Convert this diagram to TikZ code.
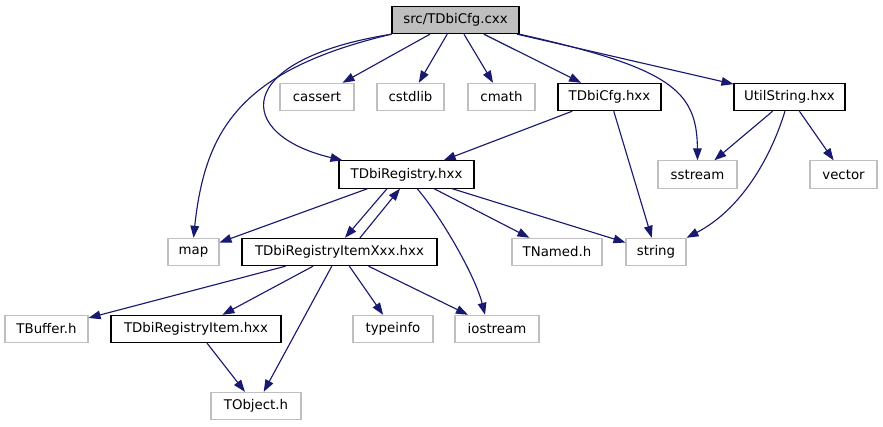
\documentclass[tikz,border=0pt]{standalone}
\usepackage{fontspec}
\setmainfont{DejaVu Sans}
\usepackage{xcolor}
\usepackage{tikz}
\usetikzlibrary{arrows.meta}
\definecolor{edgeblue}{HTML}{191970}
\definecolor{extgray}{HTML}{BFBFBF}

\begin{document}
\begin{tikzpicture}[x=0.75pt, y=-0.75pt, font=\fontsize{10}{12}\selectfont,
    hdr/.style={draw=black, line width=0.8pt, minimum height=20.5pt, inner sep=0pt},
    ext/.style={draw=extgray, line width=0.8pt, minimum height=20.5pt, inner sep=0pt},
    dep/.style={edgeblue, line width=0.85pt, -{Triangle[length=9pt, width=6.5pt]}}]
            \useasboundingbox (0,0) rectangle (883,427);
            % files
            \node[hdr, fill=extgray, minimum width=95.25pt] (cxx) at (455.5,20) {src/TDbiCfg.cxx};
            \node[ext, minimum width=55.5pt] (cassert) at (317,97) {cassert};
            \node[ext, minimum width=50.25pt] (cstdlib) at (410.5,97) {cstdlib};
            \node[ext, minimum width=50.25pt] (cmath) at (501.5,97) {cmath};
            \node[hdr, minimum width=77.25pt] (cfghxx) at (609.5,97) {TDbiCfg.hxx};
            \node[hdr, minimum width=83.25pt] (utilstr) at (789.5,97) {UtilString.hxx};
            \node[hdr, minimum width=101.25pt] (reg) at (406.5,174.5) {TDbiRegistry.hxx};
            \node[ext, minimum width=59.25pt] (sstream) at (697.5,174.5) {sstream};
            \node[ext, minimum width=50.25pt] (vector) at (843.5,174.5) {vector};
            \node[ext, minimum width=38.25pt] (map) at (193.5,252) {map};
            \node[hdr, minimum width=146.25pt] (itemxxx) at (339.5,252) {TDbiRegistryItemXxx.hxx};
            \node[ext, minimum width=67.5pt] (tnamed) at (557,252) {TNamed.h};
            \node[ext, minimum width=45pt] (string) at (656,252) {string};
            \node[ext, minimum width=62.25pt] (tbuffer) at (46.5,329) {TBuffer.h};
            \node[hdr, minimum width=127.5pt] (item) at (196,329) {TDbiRegistryItem.hxx};
            \node[ext, minimum width=60pt] (typeinfo) at (393,329) {typeinfo};
            \node[ext, minimum width=63pt] (iostream) at (497,329) {iostream};
            \node[ext, minimum width=67.5pt] (tobject) at (256,406) {TObject.h};
            % includes
            \draw[dep] (cxx.south west) .. controls (240,70) and (205,130) .. (map.north);
            \draw[dep] (cxx.south west) .. controls (230,60) and (235,135) .. ([xshift=3pt]reg.north west);
            \draw[dep] (cxx) -- (cassert);
            \draw[dep] (cxx) -- (cstdlib);
            \draw[dep] (cxx) -- (cmath);
            \draw[dep] (cxx) -- (cfghxx);
            \draw[dep] (cxx.south east) .. controls (670,68) and (697,90) .. (sstream.north);
            \draw[dep] (cxx) -- (utilstr);
            \draw[dep] (cfghxx) -- (reg);
            \draw[dep] (cfghxx) -- (string);
            \draw[dep] (utilstr) -- (sstream);
            \draw[dep] (utilstr) -- (vector);
            \draw[dep] ([xshift=-3.4pt]utilstr.south) .. controls (770,160) and (740,210) .. (string.north east);
            \draw[dep] (reg) -- (map);
            \draw[dep] ([xshift=-14.6pt]reg.south) -- ([xshift=4.1pt]itemxxx.north);
            \draw[dep] ([xshift=15.4pt]itemxxx.north) -- ([xshift=-4.9pt]reg.south);
            \draw[dep] ([xshift=8pt]reg.south) .. controls (440,215) and (475,275) .. ([xshift=-9pt]iostream.north);
            \draw[dep] (reg) -- (tnamed);
            \draw[dep] (reg) -- (string);
            \draw[dep] (itemxxx) -- (tbuffer);
            \draw[dep] (itemxxx) -- (item);
            \draw[dep] (itemxxx) -- (tobject);
            \draw[dep] (itemxxx) -- (typeinfo);
            \draw[dep] (itemxxx) -- (iostream);
            \draw[dep] (item) -- (tobject);
          \end{tikzpicture}
\end{document}
